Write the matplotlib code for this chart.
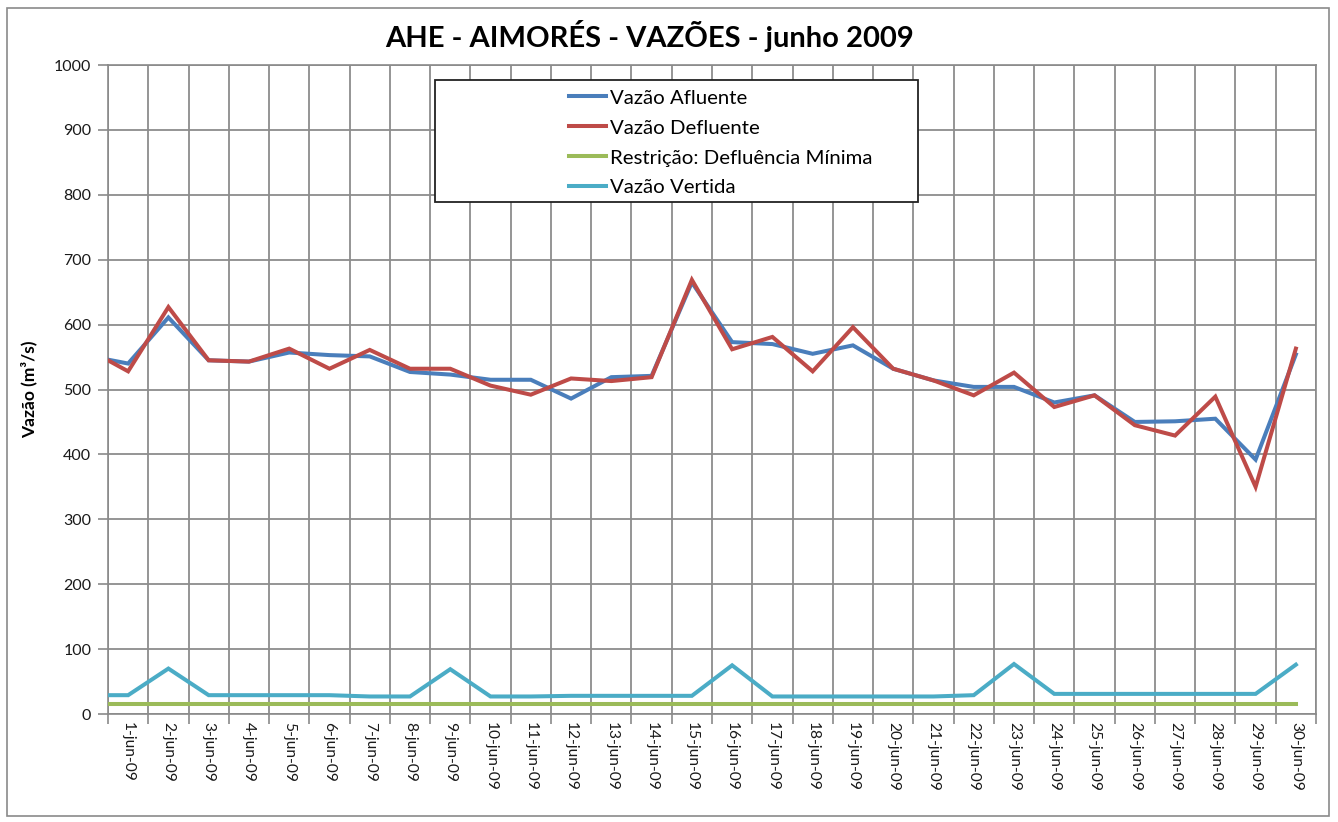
import matplotlib
matplotlib.use("Agg")
import matplotlib.pyplot as plt
import numpy as np
from matplotlib.patches import Rectangle
from matplotlib.ticker import FixedLocator

plt.rcParams['font.family'] = ['Lato', 'DejaVu Sans']

# categories (days of June 2009)
days = [f"{d}-jun-09" for d in range(1, 31)]

# first value of each series is the point drawn at the left edge of the plot
afluente = [546, 540, 611, 545, 543, 557, 553, 551, 527, 523, 515,
            515, 486, 519, 521, 665, 573, 570, 555, 568, 532,
            514, 504, 504, 480, 491, 450, 451, 455, 392, 554]
defluente = [545, 528, 627, 545, 543, 563, 532, 561, 532, 532, 506,
             492, 517, 513, 519, 669, 562, 581, 528, 596, 532,
             514, 491, 526, 473, 491, 445, 429, 489, 350, 563]
restricao = [16] * 31
vertida = [29, 29, 70, 29, 29, 29, 29, 27, 27, 69, 27,
           27, 28, 28, 28, 28, 75, 27, 27, 27, 27,
           27, 29, 77, 31, 31, 31, 31, 31, 31, 76]

series = [
    ("Vazão Afluente", afluente, "#4A7EBB"),
    ("Vazão Defluente", defluente, "#BE4B48"),
    ("Restrição: Defluência Mínima", restricao, "#9BBB59"),
    ("Vazão Vertida", vertida, "#4BACC6"),
]

W, H = 1338, 822


def main() -> None:
    fig = plt.figure(figsize=(W / 100, H / 100), dpi=100)
    fig.patch.set_facecolor("white")

    # outer chart border
    fig.patches.append(Rectangle((7 / W, 1 - 816 / H), (1329 - 7) / W, (816 - 8) / H,
                                 transform=fig.transFigure, fill=False,
                                 edgecolor="#8a8a8a", linewidth=1.2))

    left, right, top, bottom = 108, 1316, 65, 714
    ax = fig.add_axes([left / W, 1 - bottom / H, (right - left) / W, (bottom - top) / H])

    n = len(days)
    x = np.concatenate([[-0.5], np.arange(n)])

    handles = []
    for label, vals, color in series:
        h, = ax.plot(x, vals, color=color, linewidth=2.9, label=label,
                     solid_joinstyle="miter", zorder=3)
        handles.append(h)

    ax.set_xlim(-0.5, n - 0.5)
    ax.set_ylim(0, 1000)
    ax.set_yticks(np.arange(0, 1001, 100))
    ax.set_xticks(np.arange(n))
    ax.set_xticklabels(days, rotation=270, fontsize=11.2)
    ax.xaxis.set_minor_locator(FixedLocator(np.arange(-0.5, n, 1.0)))
    ax.tick_params(axis="x", which="major", length=0, pad=6, labelcolor="#1a1a1a")
    ax.tick_params(axis="x", which="minor", length=7, width=1.2, color="#8a8a8a")
    ax.tick_params(axis="y", length=7, width=1.2, color="#8a8a8a",
                   labelsize=11.5, labelcolor="#1a1a1a", pad=5)

    ax.grid(True, axis="y", color="#8c8c8c", linewidth=1.3)
    ax.grid(True, axis="x", which="minor", color="#8c8c8c", linewidth=1.3)
    ax.set_axisbelow(True)
    for s in ax.spines.values():
        s.set_color("#8a8a8a")
        s.set_linewidth(1.2)

    ax.set_ylabel("Vazão (m³/s)", fontsize=12.5, fontweight="bold", labelpad=12)

    fig.text(650 / W, 1 - 36 / H, "AHE - AIMORÉS - VAZÕES - junho 2009",
             ha="center", va="center", fontsize=21, fontweight="bold")

    # legend box
    fig.patches.append(Rectangle((435 / W, 1 - 202 / H), (918 - 435) / W, (202 - 80) / H,
                                 transform=fig.transFigure, facecolor="white",
                                 edgecolor="#222222", linewidth=1.3, zorder=5))
    leg = fig.legend(handles=handles, loc="upper left",
                     bbox_to_anchor=(553 / W, 1 - 73 / H), frameon=False,
                     fontsize=14.7, handlelength=1.8, handletextpad=0.2,
                     labelspacing=0.62, borderpad=0.3)
    leg.set_zorder(6)

    fig.savefig("out.png", dpi=100)


if __name__ == "__main__":
    main()
